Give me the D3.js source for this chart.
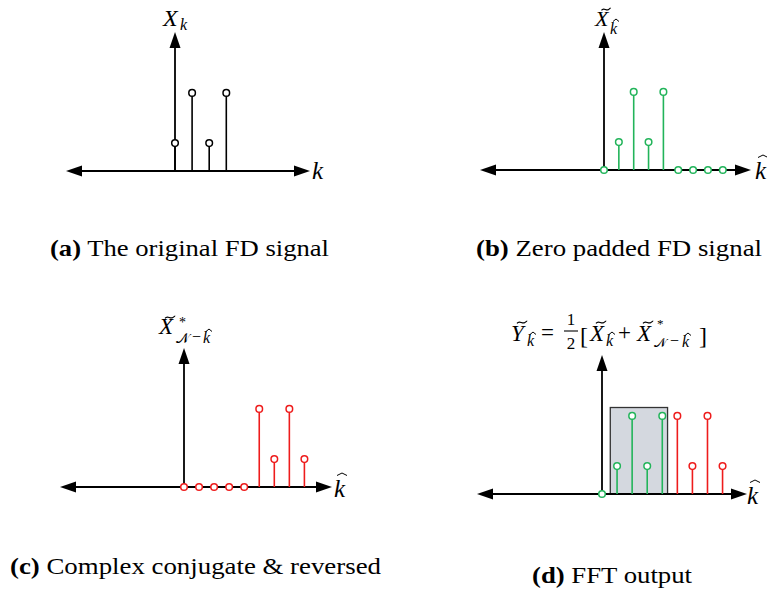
<!DOCTYPE html>
<html><head><meta charset="utf-8">
<script src="https://cdn.jsdelivr.net/npm/d3@7"></script>
<style>body{margin:0;background:#fff}</style>
</head><body>
<svg id="chart" width="767" height="593"></svg>
<script>
// ---- data ----
const kOriginal = [0, 1, 2, 3];
const valuesOriginal = [1, 2.8, 1, 2.8];
const kPadded = [0, 1, 2, 3, 4, 5, 6, 7, 8];
const valuesPadded = [0, 1, 2.8, 1, 2.8, 0, 0, 0, 0];
const valuesReversed = [0, 0, 0, 0, 0, 2.8, 1, 2.8, 1];
const outputGreenK = [0, 1, 2, 3, 4];
const outputRedK = [5, 6, 7, 8];
const outputWindow = [0.55, 4.35, 3.1]; // k from, k to, height
const captionBold = ["(a)", "(b)", "(c)", "(d)"];
const captionText = [" The original FD signal", " Zero padded FD signal", " Complex conjugate & reversed", " FFT output"];

const GREEN = "#22b45a", RED = "#ee1c1c", BLACK = "#000";
const svg = d3.select("#chart");
const MATH = "'Liberation Serif', serif";
const CAP = "'Liberation Serif', serif";

const layouts = [
  {ox: 175, oy: 171, left: 66, right: 310, top: 32, step: 17.1},
  {ox: 604, oy: 170, left: 480, right: 751, top: 32, step: 14.85},
  {ox: 184, oy: 487, left: 60, right: 332, top: 348, step: 15.05},
  {ox: 602, oy: 494, left: 477, right: 747, top: 355, step: 15.07}
];

function scales(L) {
  const x = d3.scaleLinear().domain([0, 1]).range([L.ox, L.ox + L.step]);
  const y = d3.scaleLinear().domain([0, 1]).range([L.oy, L.oy - 27.9]);
  return {x, y};
}

function axes(g, L) {
  const aw = 5.5, al = 16;
  g.append("line").attr("x1", L.left + 4).attr("x2", L.right - 4).attr("y1", L.oy).attr("y2", L.oy)
    .attr("stroke", BLACK).attr("stroke-width", 1.8);
  g.append("line").attr("x1", L.ox).attr("x2", L.ox).attr("y1", L.oy).attr("y2", L.top + 4)
    .attr("stroke", BLACK).attr("stroke-width", 1.8);
  g.append("path").attr("d", `M${L.left},${L.oy}L${L.left + al},${L.oy - aw}L${L.left + al},${L.oy + aw}Z`).attr("fill", BLACK);
  g.append("path").attr("d", `M${L.right},${L.oy}L${L.right - al},${L.oy - aw}L${L.right - al},${L.oy + aw}Z`).attr("fill", BLACK);
  g.append("path").attr("d", `M${L.ox},${L.top}L${L.ox - aw},${L.top + al}L${L.ox + aw},${L.top + al}Z`).attr("fill", BLACK);
}

function stems(g, ks, vals, sc, color) {
  const r = 3.3;
  const data = ks.map((k, i) => ({k, v: vals[i]}));
  g.selectAll(null).data(data.filter(d => d.v > 0)).enter().append("line")
    .attr("x1", d => sc.x(d.k)).attr("x2", d => sc.x(d.k))
    .attr("y1", sc.y(0)).attr("y2", d => sc.y(d.v) + r)
    .attr("stroke", color).attr("stroke-width", 1.6);
  g.selectAll(null).data(data).enter().append("circle")
    .attr("cx", d => sc.x(d.k)).attr("cy", d => sc.y(d.v)).attr("r", r)
    .attr("fill", "#fff").attr("stroke", color).attr("stroke-width", 1.5);
}

function txt(x, y, s, size, italic, anchor) {
  return svg.append("text").attr("x", x).attr("y", y).text(s)
    .attr("font-family", MATH).attr("font-size", size)
    .attr("font-style", italic ? "italic" : "normal")
    .attr("text-anchor", anchor || "start").attr("fill", BLACK);
}
function tilde(cx, cy, w) {
  w = w || 9;
  const h = 2.2;
  svg.append("path")
    .attr("d", `M${cx - w / 2},${cy + h * 0.6} C${cx - w / 4},${cy - h} ${cx},${cy + h} ${cx + w / 4},${cy + h * 0.3} S${cx + w / 2},${cy - h * 0.6} ${cx + w / 2},${cy - h * 0.6}`)
    .attr("fill", "none").attr("stroke", BLACK).attr("stroke-width", 1.2);
}
function hat(cx, cy, w) {
  w = w || 6;
  svg.append("path").attr("d", `M${cx - w / 2},${cy + 2.5}L${cx},${cy}L${cx + w / 2},${cy + 2.5}`)
    .attr("fill", "none").attr("stroke", BLACK).attr("stroke-width", 1);
}
function calN(x, y, size) {
  return txt(x, y, "\u{1D4A9}", size, false);
}

// ---- panel a ----
{
  const L = layouts[0], sc = scales(L), g = svg.append("g");
  axes(g, L);
  stems(g, kOriginal, valuesOriginal, sc, BLACK);
  txt(163, 26, "X", 24, true);
  txt(180, 30, "k", 16, true);
  txt(312, 179, "k", 25, true);
}
// ---- panel b ----
{
  const L = layouts[1], sc = scales(L), g = svg.append("g");
  axes(g, L);
  stems(g, kPadded, valuesPadded, sc, GREEN);
  txt(595, 26, "X", 22, true);
  tilde(606, 9, 9);
  txt(610, 34, "k", 16, true);
  hat(616, 19, 6);
  txt(755, 179, "k", 25, true);
  hat(763, 155, 10);
}
// ---- panel c ----
{
  const L = layouts[2], sc = scales(L), g = svg.append("g");
  axes(g, L);
  stems(g, kPadded, valuesReversed, sc, RED);
  txt(159, 334, "X", 23, true);
  tilde(170, 317, 10);
  txt(179, 327, "*", 14, false);
  calN(176, 343, 14);
  txt(192, 342, "\u2212", 16, false);
  txt(203, 343, "k", 16, true);
  hat(209, 329, 6);
  txt(334, 497, "k", 25, true);
  hat(342, 473, 10);
}
// ---- panel d ----
{
  const L = layouts[3], sc = scales(L), g = svg.append("g");
  g.append("rect")
    .attr("x", sc.x(outputWindow[0])).attr("y", sc.y(outputWindow[2]))
    .attr("width", sc.x(outputWindow[1]) - sc.x(outputWindow[0]))
    .attr("height", sc.y(0) - sc.y(outputWindow[2]))
    .attr("fill", "#d4d8df").attr("stroke", "#333").attr("stroke-width", 1.3);
  axes(g, L);
  stems(g, outputGreenK, outputGreenK.map(k => valuesPadded[k]), sc, GREEN);
  stems(g, outputRedK, outputRedK.map(k => valuesReversed[k]), sc, RED);
  // formula
  txt(511, 341, "Y", 23, true);
  tilde(522, 322, 10);
  txt(527, 346, "k", 16, true);
  hat(533, 332, 6);
  txt(541, 340, "=", 23, false);
  txt(571, 325, "1", 17, false, "middle");
  svg.append("line").attr("x1", 564).attr("x2", 578).attr("y1", 331).attr("y2", 331).attr("stroke", BLACK).attr("stroke-width", 1.1);
  txt(571, 349, "2", 17, false, "middle");
  txt(580, 344, "[", 24, false);
  txt(590, 341, "X", 23, true);
  tilde(601, 322, 10);
  txt(606, 346, "k", 16, true);
  hat(612, 332, 6);
  txt(618, 340, "+", 23, false);
  txt(637, 341, "X", 23, true);
  tilde(648, 322, 10);
  txt(657, 328, "*", 13, false);
  calN(654, 347, 13);
  txt(670, 346, "\u2212", 16, false);
  txt(682, 347, "k", 16, true);
  hat(688, 333, 6);
  txt(699, 344, "]", 24, false);
  txt(747, 504, "k", 25, true);
  hat(755, 480, 10);
}

// ---- captions ----
const capPos = [[50, 256, 279], [476, 256, 286], [10, 574, 371], [532, 583, 160]];
captionBold.forEach((b, i) => {
  const [x, y, w] = capPos[i];
  const t = svg.append("text").attr("x", x).attr("y", y)
    .attr("font-family", CAP).attr("font-size", 24).attr("fill", BLACK)
    .attr("textLength", w).attr("lengthAdjust", "spacingAndGlyphs");
  t.append("tspan").attr("font-weight", "bold").text(b);
  t.append("tspan").text(captionText[i]);
});
</script>
</body></html>
